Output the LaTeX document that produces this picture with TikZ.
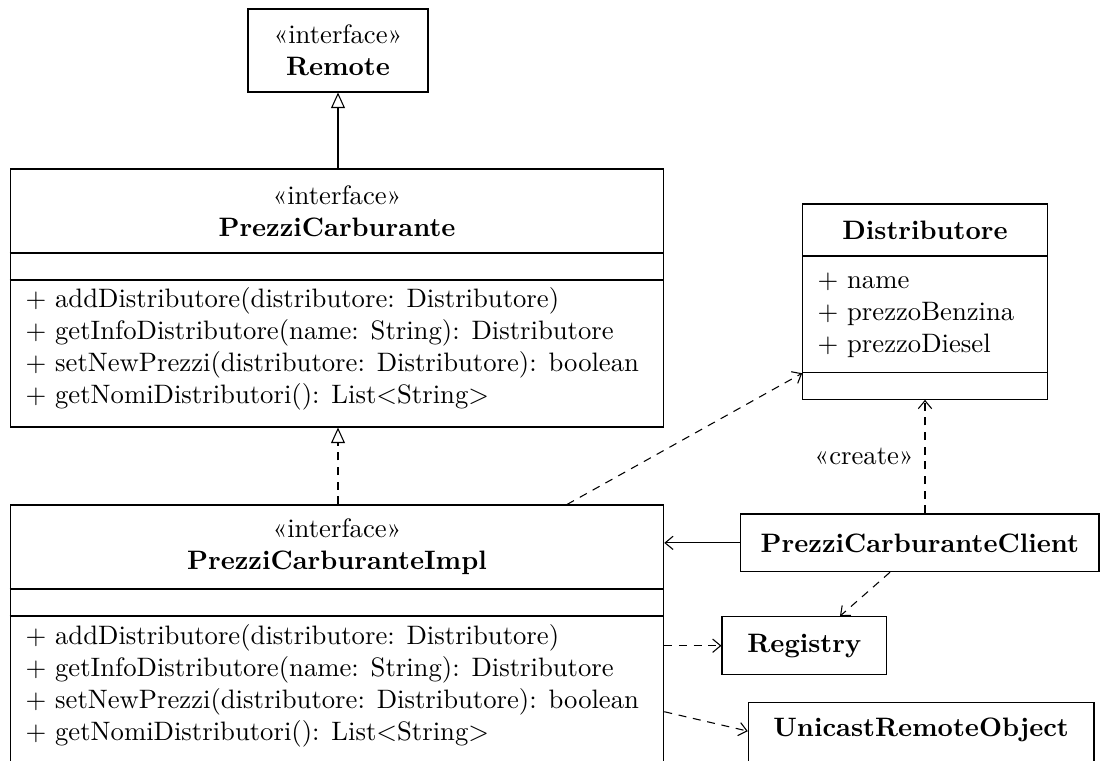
\documentclass[tikz,border=0pt]{standalone}
\usepackage{fontspec}
\usetikzlibrary{arrows.meta}
\def\pxu{0.375pt}
\begin{document}
\begin{tikzpicture}[x=\pxu,y=-\pxu,
  box/.style={draw,rectangle,inner sep=0pt,line width=0.4pt},
  txt/.style={inner sep=0pt,font=\normalsize},
  gen/.style={line width=0.4pt,-{Triangle[open,length=5.8pt,width=5.2pt]}},
  dep/.style={line width=0.4pt,dash pattern=on 3pt off 2.5pt,-{Straight Barb[length=3pt,width=5pt]}},
  assoc/.style={line width=0.4pt,-{Straight Barb[length=3pt,width=5pt]}},
  realiz/.style={line width=0.4pt,dash pattern=on 3pt off 2.5pt,-{Triangle[open,length=5.8pt,width=5.2pt]}},
  divider/.style={line width=0.4pt}]
\clip (0,0) rectangle (1103,760);
% Boxes
\node[box,minimum width=180*\pxu,minimum height=83*\pxu] (remote) at (338,50.5) {};
\node[box,minimum width=653.5*\pxu,minimum height=258*\pxu] (pc) at (337,298) {};
\node[box,minimum width=653.5*\pxu,minimum height=285*\pxu] (impl) at (337,647.5) {};
\node[box,minimum width=244.6*\pxu,minimum height=195.3*\pxu] (dist) at (925,301.65) {};
\node[box,minimum width=358.3*\pxu,minimum height=57.7*\pxu] (client) at (919.85,542.85) {};
\node[box,minimum width=164.7*\pxu,minimum height=58*\pxu] (registry) at (804.35,645.7) {};
\node[box,minimum width=345.7*\pxu,minimum height=60*\pxu] (unicast) at (921.15,732.7) {};
% Dividers
\draw[divider] (pc.west |- 0,253) -- (pc.east |- 0,253);
\draw[divider] (pc.west |- 0,280) -- (pc.east |- 0,280);
\draw[divider] (impl.west |- 0,589) -- (impl.east |- 0,589);
\draw[divider] (impl.west |- 0,616) -- (impl.east |- 0,616);
\draw[divider] (dist.west |- 0,256) -- (dist.east |- 0,256);
\draw[divider] (dist.west |- 0,372.7) -- (dist.east |- 0,372.7);
% Texts
\node[txt,align=center] (remotet) at (338,50.5) {«interface»\\\textbf{Remote}};
\node[txt,align=center] (pct) at (337,211) {«interface»\\\textbf{PrezziCarburante}};
\node[txt,align=left,anchor=west] (pcm) at (25,349) {+ addDistributore(distributore: Distributore)\\+ getInfoDistributore(name: String): Distributore\\+ setNewPrezzi(distributore: Distributore): boolean\\+ getNomiDistributori(): List<String>};
\node[txt,align=center] (implt) at (337,547) {«interface»\\\textbf{PrezziCarburanteImpl}};
\node[txt,align=left,anchor=west] (implm) at (25,686) {+ addDistributore(distributore: Distributore)\\+ getInfoDistributore(name: String): Distributore\\+ setNewPrezzi(distributore: Distributore): boolean\\+ getNomiDistributori(): List<String>};
\node[txt] (distt) at (925,230) {\textbf{Distributore}};
\node[txt,align=left,anchor=west] (dista) at (817,315) {+ name\\+ prezzoBenzina\\+ prezzoDiesel};
\node[txt] (clientt) at (919.85,542.85) {\textbf{PrezziCarburanteClient}};
\node[txt] (registryt) at (804.35,645.7) {\textbf{Registry}};
\node[txt] (unicastt) at (921.15,730) {\textbf{UnicastRemoteObject}};
% Connectors
\draw[gen] (pc.north -| remote.south) -- (remote.south);
\draw[realiz] (impl.north -| remote.south) -- (pc.south -| remote.south);
\draw[dep] ([xshift=-97.3*\pxu]impl.north east) -- ([yshift=26.6*\pxu]dist.south west);
\draw[dep] (client.north -| dist.south) -- node[txt,left=4pt] (create) {«create»} (dist.south);
\draw[assoc] (client.west) -- (impl.east |- client.west);
\draw[dep] ([xshift=-29.85*\pxu]client.south) -- ([xshift=35.6*\pxu]registry.north);
\draw[dep] (impl.east |- registry.west) -- (registry.west);
\draw[dep] ([yshift=-64.2*\pxu]impl.east) -- ([yshift=1.6*\pxu]unicast.west);
\end{tikzpicture}
\end{document}
